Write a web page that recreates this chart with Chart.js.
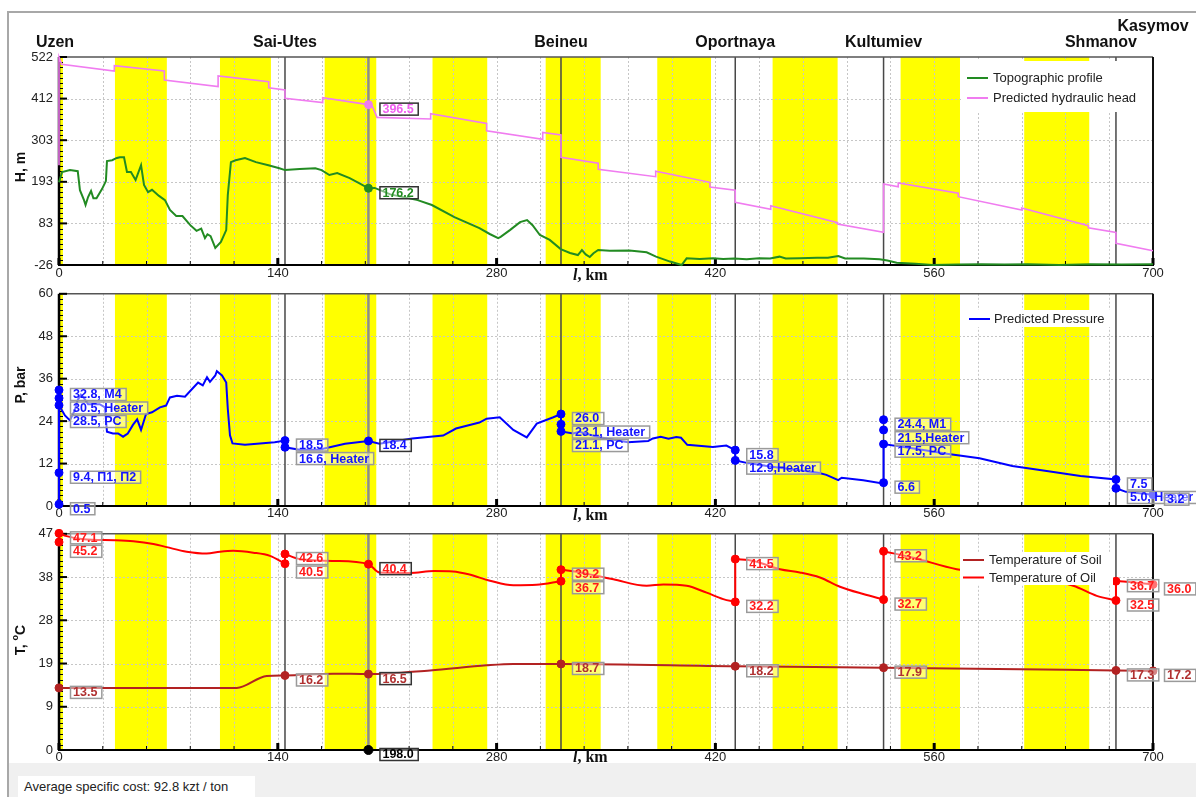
<!DOCTYPE html>
<html>
<head>
<meta charset="utf-8">
<title>Pipeline profile</title>
<script src="https://cdn.jsdelivr.net/npm/chart.js@4.4.1/dist/chart.umd.min.js"></script>
<style>
body { margin:0; width:1196px; height:797px; overflow:hidden; background:#fff; position:relative; font-family:"Liberation Sans", Arial, sans-serif; }
#frame { position:absolute; left:7px; top:11px; width:1189px; height:752px; border-left:2px solid #a8a8a8; border-top:2px solid #a8a8a8; box-sizing:border-box; background:#fff; }
#status { position:absolute; left:7px; top:763px; width:1189px; height:34px; background:#f0f0f0; border-left:2px solid #a8a8a8; box-sizing:border-box; }
#cost { position:absolute; left:18px; top:776px; width:237px; height:21px; background:#fff; font-size:13px; color:#222; line-height:21px; padding-left:6px; box-sizing:border-box; }
canvas { position:absolute; left:0; }
</style>
</head>
<body>
<div id="frame"></div>
<div id="status"></div>
<div id="cost">Average specific cost: 92.8 kzt / ton</div>
<canvas id="cH" width="1196" height="280" style="top:10px"></canvas>
<canvas id="cP" width="1196" height="250" style="top:280px"></canvas>
<canvas id="cT" width="1196" height="245" style="top:520px"></canvas>
<script>
// route
var station_names = ['Uzen', 'Sai-Utes', 'Beineu', 'Oportnaya', 'Kultumiev', 'Shmanov', 'Kasymov'];
var station_km = [0, 144.6, 321.2, 432.7, 527.6, 676.3, 700];
var cursor_km = 198;
var heater_from = [0, 35.8, 103, 170, 239, 311.4, 382.8, 456.6, 538.5, 617.6];
var heater_to = [2.5, 69, 135.6, 203, 274, 346.6, 417.2, 498.2, 576.5, 659.2];
var x_tick_labels = ['0', '140', '280', '420', '560', '700'];

// head panel
var H_tick_labels = ['-26', '83', '193', '303', '412', '522'];
var head_km = [0, 0, 1.7, 35.4, 35.4, 67.4, 67.4, 101.8, 101.8, 134.2, 134.2, 144.6, 144.6, 168.7, 168.7, 198, 200.5, 203.5, 237.8, 237.8, 273.6, 273.6, 309.5, 309.5, 321.2, 321.2, 345, 345, 381.8, 381.8, 416.5, 416.5, 432.7, 432.7, 455.4, 455.4, 498.2, 498.2, 527.6, 527.6, 537, 537, 575.4, 575.4, 616, 616, 658.6, 658.6, 676.3, 676.3, 700];
var head_H = [237, 522, 503, 485, 499, 485, 461, 444, 472, 457, 441, 435, 413, 402, 415, 396.5, 392, 363, 358.6, 372.6, 347, 327.8, 305, 323.5, 316.5, 257.7, 242, 226, 206.6, 220.8, 191.8, 179.5, 170.8, 139, 120.7, 130, 85.4, 82, 60, 187.4, 180, 190, 163, 154, 119, 124, 77.5, 72, 60, 31, 11.7];
var topo_km = [0, 2, 7, 12, 13.4, 16, 17, 18.6, 20.5, 22, 24, 27.5, 30, 30.7, 34, 37, 39, 41.6, 43.5, 46, 49, 52.5, 54.4, 57, 59.5, 64, 67.8, 71, 75, 79, 84, 88, 91, 93.4, 95, 97, 100, 103.6, 107, 108, 110, 113, 119, 126, 134, 141, 144.6, 154, 164, 168, 173, 178, 186, 192, 198, 202, 212, 229.5, 238.6, 253, 269, 275.6, 281, 282.6, 288.5, 295, 299.5, 303, 307.7, 314, 321, 327, 332, 334.6, 337, 339.6, 342, 345, 352.5, 365, 376, 382, 391, 398.4, 401.6, 410, 418.5, 425, 432, 440, 448, 455, 461, 465, 474, 485, 492, 498.6, 503, 515, 525, 530, 536, 548, 559, 575, 590, 605, 620, 640, 660, 680, 700];
var topo_H = [192, 219, 224, 221, 171, 145, 132, 153, 169, 150, 150, 174, 195, 248, 250, 256, 258, 258, 219, 219, 198, 237, 185, 166, 172, 156, 145, 119, 103, 103, 79, 64, 70, 45, 55, 50, 19, 35, 66, 158, 245, 250, 256, 245, 237, 229, 224, 227, 229, 224, 211, 216, 203, 190, 176.2, 177, 160, 145, 132, 100, 71, 55.7, 45, 48, 66, 87, 92.5, 79, 53, 40, 16, 5.6, 0.3, 13.5, 2, -5, 5, 13.5, 11.7, 12, 7.5, -4, -17, -26, -8.4, -10, -8, -10, -9, -11, -8, -9, -4, -9, -8, -7, -7, -2.3, -9, -9, -11, -14, -20, -23, -26, -25, -24, -25, -24, -26, -24, -25, -24];

// pressure panel
var P_tick_labels = ['0', '12', '24', '36', '48', '60'];
var press_km = [0, 0, 0, 3.8, 7, 10, 12, 14, 16, 18.6, 26, 29.4, 30.7, 34.5, 37.8, 41, 44, 47.4, 50, 52.5, 55.7, 59.5, 64.6, 68.5, 71, 75.5, 80.6, 85, 89, 92, 94.7, 96.6, 100, 101, 104.3, 107, 108, 109.4, 111, 119, 128.6, 138, 144.6, 144.6, 154, 167, 183, 198, 205, 226, 245.8, 254, 269, 273.6, 282, 290.7, 299.3, 305.7, 316.3, 321.2, 321.2, 329, 333, 345, 364, 377, 380, 385, 390, 395, 398, 402, 418.4, 427, 432.7, 432.7, 440, 455, 470, 485.8, 491, 498.6, 500.8, 514.6, 527, 527.6, 527.6, 548, 568, 589, 610, 632, 653.6, 676.3, 676.3, 682.7, 700];
var press_P = [0.5, 32.8, 28.5, 25.6, 24.2, 27, 30, 31.5, 30.5, 28.8, 28.8, 27.9, 21, 20.5, 20.5, 19.6, 20.5, 23, 24.5, 21.5, 26, 26.5, 27.9, 28.4, 30.7, 31.2, 30.9, 33, 34.9, 34.1, 36.4, 35.1, 36.9, 38.1, 36.9, 34.9, 27.5, 20, 17.7, 17.3, 17.7, 18, 18.5, 16.6, 15.9, 16, 17.6, 18.4, 17.6, 19.1, 19.9, 21.9, 23.6, 24.7, 25.1, 21.5, 19.4, 23.3, 25.1, 26.0, 21.1, 20.5, 21, 19.5, 18.0, 18.4, 19.1, 19.6, 19.0, 19.5, 19.3, 17.3, 16.7, 17.1, 15.8, 12.9, 12.2, 11.2, 10.3, 9.4, 8.8, 7.3, 8.0, 7.3, 6.4, 6.6, 17.5, 16.2, 14.8, 13.5, 11.3, 9.9, 8.5, 7.5, 5.0, 4.0, 3.2];
var press_tag_km = [0, 0, 0, 0, 0, 144.6, 144.6, 198, 321.2, 321.2, 321.2, 432.7, 432.7, 527.6, 527.6, 527.6, 527.6, 676.3, 676.3, 700];
var press_tag_P = [0.5, 9.4, 28.5, 30.5, 32.8, 18.5, 16.6, 18.4, 26.0, 23.1, 21.1, 15.8, 12.9, 24.4, 21.5, 17.5, 6.6, 7.5, 5.0, 3.2];
var press_tag_text = ['0.5', '9.4, П1, П2', '28.5, PC', '30.5, Heater', '32.8, M4', '18.5', '16.6, Heater', '18.4', '26.0', '23.1, Heater', '21.1, PC', '15.8', '12.9,Heater', '24.4, M1', '21.5,Heater', '17.5, PC', '6.6', '7.5', '5.0, Heater', '3.2'];

// temperature panel
var T_tick_labels = ['0', '9', '19', '28', '38', '47'];
var oil_km = [0, 0, 4.9, 15.6, 35.8, 47.6, 60.4, 68.9, 81.7, 94.5, 103, 111.5, 124.3, 135, 144.6, 144.6, 153.9, 175, 198, 205, 224.6, 240, 252, 262, 275.8, 290.7, 305.6, 321.2, 321.2, 333.4, 354.7, 376, 386.7, 401.6, 414.4, 425, 432.7, 432.7, 444.3, 461.3, 474, 486.9, 499.7, 514.6, 527.6, 527.6, 546.6, 574.4, 600, 625, 649, 664, 676.3, 676.3, 683, 700];
var oil_T = [45.2, 47.1, 46.5, 45.8, 45.6, 45.4, 44.8, 44.1, 43.1, 42.7, 43.1, 43.3, 42.9, 42.2, 40.5, 42.6, 41.5, 41.1, 40.4, 38.6, 38.5, 38.9, 38.8, 38.2, 36.8, 35.8, 35.9, 36.7, 39.2, 38.6, 37.1, 35.7, 36.0, 35.7, 34.2, 32.8, 32.2, 41.5, 41.1, 39.3, 38.6, 37.5, 35.5, 33.9, 32.7, 43.2, 41.8, 39.3, 38.3, 37.3, 35.7, 33.5, 32.5, 36.7, 36.6, 36.0];
var soil_km = [0, 113.7, 132.9, 144.6, 175.5, 198, 237.4, 273.6, 290.7, 321.2, 432.7, 527.6, 676.3, 700];
var soil_T = [13.5, 13.5, 16.1, 16.2, 16.6, 16.5, 17.3, 18.4, 18.7, 18.7, 18.2, 17.9, 17.3, 17.2];
var oil_tag_km = [0, 0, 144.6, 144.6, 198, 321.2, 321.2, 432.7, 432.7, 527.6, 527.6, 676.3, 676.3, 700];
var oil_tag_T = [47.1, 45.2, 42.6, 40.5, 40.4, 39.2, 36.7, 41.5, 32.2, 43.2, 32.7, 36.7, 32.5, 36.0];
var soil_tag_km = [0, 144.6, 198, 321.2, 432.7, 527.6, 676.3, 700];
var soil_tag_T = [13.5, 16.2, 16.5, 18.7, 18.2, 17.9, 17.3, 17.2];

var FONT = '"Liberation Sans", Arial, sans-serif';
var SERIF = '"Liberation Serif", "Times New Roman", serif';
var PINK = '#f07cf0', GREEN = '#228b22', BLUE = '#0000ff', OIL = '#ff0000', SOIL = '#b22222';

function pts(kms, vals) {
    return kms.map(function (k, i) { return { x: k, y: vals[i] }; });
}

// plain polyline, or smooth pieces split at the vertical jumps
function lineSets(kms, vals, color, width, smooth) {
    var base = { showLine: true, borderColor: color, borderWidth: width, pointRadius: 0, clip: false, tension: 0 };
    if (!smooth) return [Object.assign({ data: pts(kms, vals) }, base)];
    var sets = [], seg = [];
    for (var i = 0; i < kms.length; i++) {
        if (i > 0 && kms[i] === kms[i - 1]) {
            if (seg.length > 1) sets.push(Object.assign({ data: seg, cubicInterpolationMode: 'monotone' }, base));
            sets.push(Object.assign({ data: pts([kms[i - 1], kms[i]], [vals[i - 1], vals[i]]) }, base));
            seg = [];
        }
        seg.push({ x: kms[i], y: vals[i] });
    }
    if (seg.length > 1) sets.push(Object.assign({ data: seg, cubicInterpolationMode: 'monotone' }, base));
    return sets;
}

function markerSet(kms, vals, color, r) {
    return { data: pts(kms, vals), showLine: false, pointRadius: r, pointBackgroundColor: color,
        pointBorderColor: color, pointBorderWidth: 1, clip: false };
}

function tags(kms, vals, texts, color) {
    return kms.map(function (k, i) {
        return { x: k, y: vals[i], text: texts ? texts[i] : vals[i].toFixed(1), color: color };
    });
}

var panelCfg = {
    cH: { top: 10, names: true, yTitle: 'H, m', yTitleY: 167, xTitleY: 276,
        legend: { box: [962, 61, 190, 51], lx: 967, tx: 993,
            items: [['Topographic profile', GREEN, 78], ['Predicted hydraulic head', PINK, 98]] },
        tags: tags([cursor_km], [396.5], null, '#f060f0').concat(tags([cursor_km], [176.2], null, GREEN)) },
    cP: { top: 280, yTitle: 'P, bar', yTitleY: 385, xTitleY: 516,
        legend: { box: [965, 310, 145, 17], lx: 969, tx: 994, items: [['Predicted Pressure', BLUE, 319]] },
        tags: tags(press_tag_km, press_tag_P, press_tag_text, '#1414ff') },
    cT: { top: 520, yTitle: 'T, ', ySup: 'o', yTail: 'C', yTitleY: 640, xTitleY: 758,
        legend: { box: [960, 552, 153, 33], lx: 963, tx: 989,
            items: [['Temperature of Soil', SOIL, 560], ['Temperature of Oil', OIL, 577.5]] },
        tags: tags(oil_tag_km, oil_tag_T, null, '#ff1a1a')
            .concat(tags(soil_tag_km, soil_tag_T, null, '#b03030'))
            .concat([{ x: cursor_km, y: 0, text: cursor_km.toFixed(1), color: '#000' }]) }
};

function drawTags(chart, list) {
    var ctx = chart.ctx, xs = chart.scales.x, ys = chart.scales.y;
    ctx.font = 'bold 12.5px ' + FONT;
    ctx.textAlign = 'left';
    ctx.textBaseline = 'middle';
    // group the readouts that share a km, keeping the order they come in
    var groups = [];
    list.forEach(function (t) {
        var g = groups.filter(function (q) { return q.x === t.x; })[0];
        if (!g) { g = { x: t.x, items: [] }; groups.push(g); }
        g.items.push(t);
    });
    groups.forEach(function (grp) {
        var g = grp.items.slice().sort(function (a, b) { return b.y - a.y; });
        var last = -1e9;
        g.forEach(function (t) {
            var px = xs.getPixelForValue(t.x), py = ys.getPixelForValue(t.y);
            var h = 12, w = ctx.measureText(t.text).width + 7;
            var top = Math.max(py - 1.5, last + 1.5), left = px + 11.5;
            ctx.fillStyle = 'rgba(255,255,255,0.45)';
            ctx.fillRect(left, top, w, h);
            ctx.lineWidth = 1.5;
            ctx.strokeStyle = t.x === cursor_km ? '#333' : '#9a9a9a';
            ctx.strokeRect(left, top, w, h);
            ctx.fillStyle = t.color;
            ctx.fillText(t.text, left + 2.5, top + h / 2 + 0.5);
            last = top + h;
        });
    });
}

var panelPlugin = {
    id: 'panel',
    beforeDatasetsDraw: function (chart) {
        var ctx = chart.ctx, a = chart.chartArea, xs = chart.scales.x, ys = chart.scales.y;
        var i, k;
        ctx.save();
        // heater zones
        ctx.fillStyle = '#ffff00';
        for (i = 0; i < heater_from.length; i++) {
            var x0 = xs.getPixelForValue(heater_from[i]), x1 = xs.getPixelForValue(heater_to[i]);
            ctx.fillRect(x0, a.top, x1 - x0, a.bottom - a.top);
        }
        // dotted grid
        ctx.strokeStyle = '#c6c6c6';
        ctx.lineWidth = 1;
        ctx.setLineDash([2, 2]);
        ctx.beginPath();
        for (k = 28; k < 700; k += 28) {
            var gx = Math.round(xs.getPixelForValue(k)) + 0.5;
            ctx.moveTo(gx, a.top); ctx.lineTo(gx, a.bottom);
        }
        ys.ticks.forEach(function (t) {
            var gy = Math.round(ys.getPixelForValue(t.value)) + 0.5;
            if (gy > a.top + 2 && gy < a.bottom - 2) { ctx.moveTo(a.left, gy); ctx.lineTo(a.right, gy); }
        });
        ctx.stroke();
        ctx.setLineDash([]);
        // stations
        ctx.strokeStyle = '#484848';
        ctx.lineWidth = 1.5;
        ctx.beginPath();
        station_km.forEach(function (s) {
            if (s <= 0 || s >= 700) return;
            var sx = xs.getPixelForValue(s);
            ctx.moveTo(sx, a.top); ctx.lineTo(sx, a.bottom);
        });
        ctx.stroke();
        // cursor
        var cx = xs.getPixelForValue(cursor_km);
        ctx.strokeStyle = '#8c8c8c';
        ctx.lineWidth = 2.5;
        ctx.beginPath(); ctx.moveTo(cx, a.top); ctx.lineTo(cx, a.bottom); ctx.stroke();
        // frame and axes
        ctx.strokeStyle = '#555';
        ctx.lineWidth = 1.5;
        ctx.beginPath(); ctx.moveTo(a.left, a.top); ctx.lineTo(a.right, a.top); ctx.stroke();
        ctx.strokeStyle = '#111';
        ctx.lineWidth = 2;
        ctx.beginPath(); ctx.moveTo(a.right, a.top); ctx.lineTo(a.right, a.bottom); ctx.stroke();
        ctx.strokeStyle = '#000';
        ctx.beginPath(); ctx.moveTo(a.left - 1, a.bottom); ctx.lineTo(a.right + 1, a.bottom); ctx.stroke();
        ctx.lineWidth = 2.5;
        ctx.beginPath(); ctx.moveTo(a.left, a.top); ctx.lineTo(a.left, a.bottom); ctx.stroke();
        for (k = 0; k <= 700; k += 28) {
            var tx = xs.getPixelForValue(k), major = k % 140 === 0;
            ctx.lineWidth = major ? 3 : 1;
            ctx.beginPath(); ctx.moveTo(tx, a.bottom); ctx.lineTo(tx, a.bottom - (major ? 7 : 4)); ctx.stroke();
        }
        var tv = ys.ticks.map(function (t) { return t.value; });
        for (i = 0; i < tv.length; i++) {
            var ty = ys.getPixelForValue(tv[i]);
            ctx.lineWidth = 2;
            ctx.beginPath(); ctx.moveTo(a.left, ty); ctx.lineTo(a.left + 8, ty); ctx.stroke();
            if (i < tv.length - 1) {
                ctx.lineWidth = 1;
                ctx.beginPath();
                for (var j = 1; j < 8; j++) {
                    var my = Math.round(ys.getPixelForValue(tv[i] + (tv[i + 1] - tv[i]) * j / 8)) + 0.5;
                    ctx.moveTo(a.left, my); ctx.lineTo(a.left + 4, my);
                }
                ctx.stroke();
            }
        }
        ctx.restore();
    },
    afterDatasetsDraw: function (chart) {
        var cfg = panelCfg[chart.canvas.id];
        var ctx = chart.ctx, xs = chart.scales.x, off = cfg.top;
        ctx.save();
        drawTags(chart, cfg.tags);

        // legend
        var L = cfg.legend;
        ctx.fillStyle = '#fff';
        ctx.fillRect(L.box[0], L.box[1] - off, L.box[2], L.box[3]);
        ctx.font = '13px ' + FONT;
        ctx.textAlign = 'left';
        ctx.textBaseline = 'middle';
        L.items.forEach(function (it) {
            ctx.strokeStyle = it[1];
            ctx.lineWidth = 2;
            ctx.beginPath(); ctx.moveTo(L.lx, it[2] - off); ctx.lineTo(L.lx + 21, it[2] - off); ctx.stroke();
            ctx.fillStyle = '#222';
            ctx.fillText(it[0], L.tx, it[2] - off + 0.5);
        });

        // y title
        ctx.save();
        ctx.translate(21, cfg.yTitleY - off);
        ctx.rotate(-Math.PI / 2);
        ctx.fillStyle = '#111';
        ctx.font = 'bold 14px ' + FONT;
        if (cfg.ySup) {
            var w1 = ctx.measureText(cfg.yTitle).width, w3 = ctx.measureText(cfg.yTail).width;
            ctx.font = 'bold 9px ' + FONT;
            var w2 = ctx.measureText(cfg.ySup).width;
            var sx = -(w1 + w2 + w3) / 2;
            ctx.font = 'bold 14px ' + FONT;
            ctx.fillText(cfg.yTitle, sx, 0);
            ctx.fillText(cfg.yTail, sx + w1 + w2, 0);
            ctx.font = 'bold 9px ' + FONT;
            ctx.fillText(cfg.ySup, sx + w1, -5);
        } else {
            ctx.textAlign = 'center';
            ctx.fillText(cfg.yTitle, 0, 0);
        }
        ctx.restore();

        // x title
        ctx.fillStyle = '#111';
        ctx.textAlign = 'left';
        ctx.font = 'italic bold 16px ' + SERIF;
        ctx.fillText('l', 573, cfg.xTitleY - off);
        var lw = ctx.measureText('l').width;
        ctx.font = 'bold 16px ' + SERIF;
        ctx.fillText(', km', 573 + lw, cfg.xTitleY - off);

        // station names
        if (cfg.names) {
            ctx.font = 'bold 16px ' + FONT;
            ctx.fillStyle = '#111';
            ctx.textAlign = 'center';
            station_names.forEach(function (n, i) {
                var nx = xs.getPixelForValue(station_km[i]), ny = 43;
                if (i === 0) nx -= 4;
                if (i === station_names.length - 2) nx -= 15;
                if (i === station_names.length - 1) ny = 27;
                ctx.fillText(n, nx, ny - off);
            });
        }
        ctx.restore();
    }
};

function makeChart(id, datasets, yMin, yMax, yLabels, padTop, xAxisH, xPad) {
    return new Chart(document.getElementById(id), {
        type: 'scatter',
        data: { datasets: datasets },
        options: {
            responsive: false,
            animation: false,
            events: [],
            layout: { padding: { left: 9, right: 43, top: padTop, bottom: 0 } },
            plugins: { legend: { display: false }, tooltip: { enabled: false } },
            scales: {
                x: {
                    type: 'linear', min: 0, max: 700,
                    afterBuildTicks: function (s) { s.ticks = x_tick_labels.map(function (v) { return { value: +v }; }); },
                    afterFit: function (s) { s.height = xAxisH; },
                    ticks: { padding: xPad, color: '#222', font: { size: 13, family: FONT }, maxRotation: 0, autoSkip: false },
                    grid: { display: false, drawTicks: false },
                    border: { display: false }
                },
                y: {
                    type: 'linear', min: yMin, max: yMax,
                    afterBuildTicks: function (s) {
                        s.ticks = yLabels.map(function (v, i) { return { value: yMin + (yMax - yMin) * i / (yLabels.length - 1) }; });
                    },
                    afterFit: function (s) { s.width = 50; },
                    ticks: {
                        padding: 6, color: '#222', font: { size: 13, family: FONT },
                        callback: function (v, i) { return yLabels[i]; }
                    },
                    grid: { display: false, drawTicks: false },
                    border: { display: false }
                }
            }
        },
        plugins: [panelPlugin]
    });
}

var H_chart = makeChart('cH',
    lineSets(topo_km, topo_H, GREEN, 2, false)
        .concat(lineSets(head_km, head_H, PINK, 1.6, false))
        .concat([markerSet([cursor_km, cursor_km], [396.5, 176.2], [PINK, GREEN], 4)]),
    -26, 522, H_tick_labels, 47, 25, 1);

var P_chart = makeChart('cP',
    lineSets(press_km, press_P, BLUE, 2, false)
        .concat([markerSet(press_tag_km, press_tag_P, BLUE, 4)]),
    0, 60, P_tick_labels, 9, 24, 0);

var T_chart = makeChart('cT',
    lineSets(soil_km, soil_T, SOIL, 2, true)
        .concat(lineSets(oil_km, oil_T, OIL, 2, true))
        .concat([markerSet(soil_tag_km, soil_tag_T, SOIL, 4), markerSet(oil_tag_km, oil_tag_T, OIL, 4),
            markerSet([cursor_km], [0], '#000', 4.5)]),
    0, 47, T_tick_labels, 13, 15, 0);
</script>
</body>
</html>
